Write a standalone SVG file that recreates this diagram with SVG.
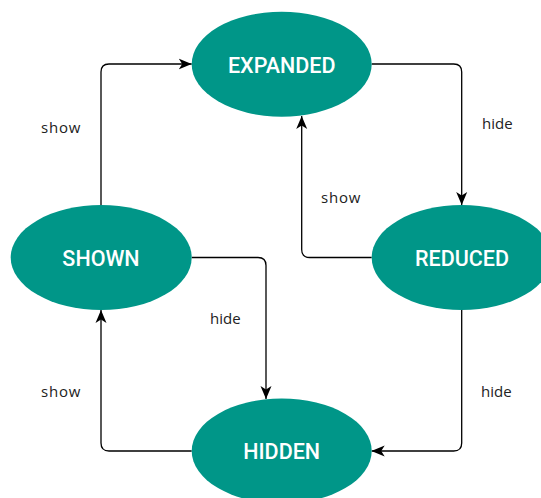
<svg xmlns="http://www.w3.org/2000/svg" width="541" height="498" viewBox="0 0 541 498">
<style>
.node{fill:#009688;}
.nt{fill:#ffffff;font-family:Roboto,"Liberation Sans",sans-serif;font-size:21.5px;font-weight:500;text-anchor:middle;}
.edge{fill:none;stroke:#000000;stroke-width:1.3;marker-end:url(#arr);}
.lbl{fill:#222222;font-family:"Open Sans","DejaVu Sans",sans-serif;font-size:15px;}
</style>
<defs>
<marker id="arr" markerUnits="userSpaceOnUse" markerWidth="13" markerHeight="12" viewBox="0 0 13 12" refX="13" refY="6" orient="auto">
<path d="M0,0.5 L13,6 L0,11.5 L3.5,6 Z" fill="#000000"/>
</marker>
</defs>
<rect width="541" height="498" fill="#ffffff"/>
<g id="connectors">
<path class="edge" d="M101,205 V72 Q101,64 109,64 H191.7"/>
<path class="edge" d="M371.7,64 H453.7 Q461.7,64 461.7,72 V205"/>
<path class="edge" d="M371.7,257.5 H309.7 Q301.7,257.5 301.7,249.5 V116"/>
<path class="edge" d="M191.7,257.5 H258 Q266,257.5 266,265.5 V399"/>
<path class="edge" d="M461.7,310 V443 Q461.7,451 453.7,451 H371.7"/>
<path class="edge" d="M191.7,451 H109 Q101,451 101,443 V310"/>
</g>
<g id="labels">
<text class="lbl" x="41" y="133" letter-spacing="0.8">show</text>
<text class="lbl" x="482" y="129">hide</text>
<text class="lbl" x="321" y="203" letter-spacing="0.8">show</text>
<text class="lbl" x="210" y="324">hide</text>
<text class="lbl" x="41" y="397" letter-spacing="0.8">show</text>
<text class="lbl" x="481" y="397">hide</text>
</g>
<g id="expanded">
<ellipse class="node" cx="281.7" cy="64.2" rx="90" ry="52.5"/>
<text class="nt" x="281.7" y="72.5">EXPANDED</text>
</g>
<g id="shown">
<ellipse class="node" cx="101.2" cy="257.5" rx="90.5" ry="52.5"/>
<text class="nt" x="101" y="265.5">SHOWN</text>
</g>
<g id="reduced">
<ellipse class="node" cx="461.7" cy="257.5" rx="90" ry="52.5"/>
<text class="nt" x="462" y="265.5">REDUCED</text>
</g>
<g id="hidden">
<ellipse class="node" cx="281.7" cy="451" rx="90" ry="52.5"/>
<text class="nt" x="281.7" y="459">HIDDEN</text>
</g>
</svg>
